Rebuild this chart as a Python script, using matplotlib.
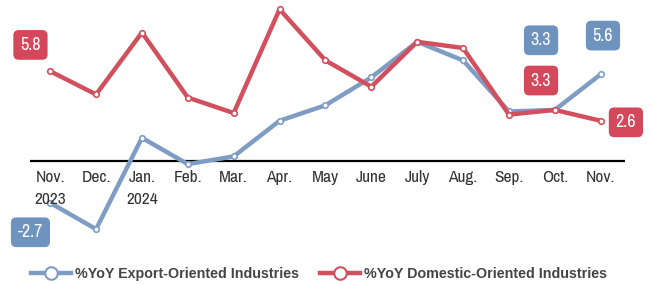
import matplotlib.pyplot as plt

months = ['Nov.\n2023', 'Dec.', 'Jan.\n2024', 'Feb.', 'Mar.', 'Apr.', 'May', 'June',
          'July', 'Aug.', 'Sep.', 'Oct.', 'Nov.']
export_yoy = [-2.7, -4.4, 1.5, -0.2, 0.3, 2.6, 3.6, 5.4, 7.7, 6.5, 3.2, 3.3, 5.6]
domestic_yoy = [5.8, 4.3, 8.3, 4.1, 3.1, 9.8, 6.5, 4.8, 7.7, 7.3, 3.0, 3.3, 2.6]

blue = '#7f9dc4'
red = '#d24f5e'
blue_box = '#6f93bf'
red_box = '#d5475a'

plt.rcParams['font.family'] = ['Archivo Narrow', 'Liberation Sans', 'DejaVu Sans']

fig = plt.figure(figsize=(6.52, 2.85), dpi=100)
ax = fig.add_axes([30 / 652, 45 / 285, 595 / 652, 240 / 285])

x = list(range(len(months)))
ax.plot(x, export_yoy, color=blue, lw=3.2, marker='o', ms=4, mfc='white', mec=blue,
        mew=1.2, label='%YoY Export-Oriented Industries', zorder=3)
ax.plot(x, domestic_yoy, color=red, lw=3.2, marker='o', ms=4, mfc='white', mec=red,
        mew=1.2, label='%YoY Domestic-Oriented Industries', zorder=3)

ax.set_xlim(-0.44, 12.53)
ax.set_ylim(-5.1, 10.4)
ax.axhline(0, color='black', lw=1.6, zorder=2)

for s in ax.spines.values():
    s.set_visible(False)
ax.set_yticks([])
ax.set_xticks([])
for i, m in enumerate(months):
    ax.text(i, -0.55, m, ha='center', va='top', fontsize=12.5, color='#333333',
            linespacing=1.65)


def tag(xv, yv, txt, col):
    ax.text(xv, yv, txt, ha='center', va='center', fontsize=13, color='white',
            bbox=dict(boxstyle='round,pad=0.38,rounding_size=0.3', fc=col, ec='none'),
            zorder=5)


tag(-0.43, 7.5, '5.8', red_box)
tag(-0.43, -4.6, '-2.7', blue_box)
tag(10.7, 7.8, '3.3', blue_box)
tag(10.7, 5.2, '3.3', red_box)
tag(12.05, 8.1, '5.6', blue_box)
tag(12.55, 2.5, '2.6', red_box)

leg = fig.legend(loc='lower left', bbox_to_anchor=(0.028, -0.03), ncol=2, frameon=False,
                 handlelength=2.8, columnspacing=1.4, handletextpad=0.3,
                 prop={'family': ['Liberation Sans', 'DejaVu Sans'],
                       'weight': 'bold', 'size': 10.3})
for t in leg.get_texts():
    t.set_color('#444444')
for h in leg.legend_handles:
    h.set_markersize(9)
    h.set_markeredgewidth(1.5)

fig.savefig('out.png', dpi=100)
